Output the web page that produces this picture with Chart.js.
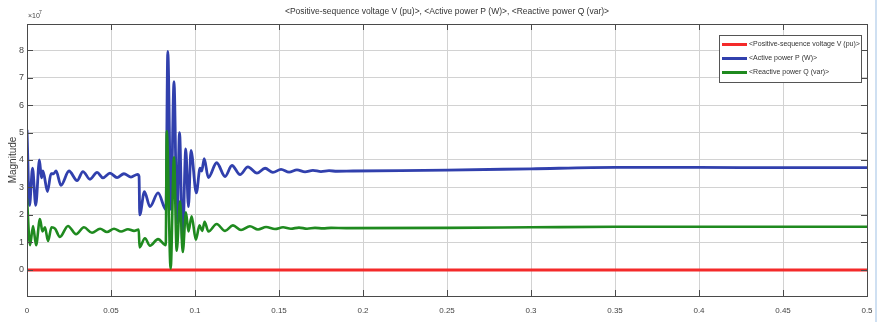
<!DOCTYPE html>
<html>
<head>
<meta charset="utf-8">
<script src="https://cdn.jsdelivr.net/npm/chart.js@4.4.1/dist/chart.umd.min.js"></script>
<style>
  html, body { margin: 0; padding: 0; background: #fff; }
  #wrap { position: relative; width: 884px; height: 322px; }
  #edge { position: absolute; left: 875px; top: 0; width: 2px; height: 322px; background: #cfe0f2; }
</style>
</head>
<body>
<div id="wrap">
  <canvas id="scope" width="884" height="322"></canvas>
  <div id="edge"></div>
</div>
<script>
// time (s) and magnitude (x 1e7)
const timeV = [0, 0.5];
const valV = [0, 0];

const timeP = [0, 0.0015, 0.0033, 0.0052, 0.0074, 0.0086, 0.0095, 0.0122, 0.0143, 0.0158, 0.0173,
  0.0202, 0.0250, 0.0298, 0.0333, 0.0375, 0.0417, 0.0452, 0.0494, 0.0536, 0.0577, 0.0619, 0.0658,
  0.0667, 0.0671, 0.0699, 0.0732, 0.0780, 0.0827, 0.0838, 0.0857, 0.0875, 0.0893, 0.0908, 0.0926,
  0.0945, 0.0961, 0.0976, 0.1008, 0.1030, 0.1040, 0.1055, 0.1079, 0.1129, 0.1179, 0.1220, 0.1268,
  0.1315, 0.1369, 0.1417, 0.1464, 0.1512, 0.1560, 0.1607, 0.1655, 0.1702, 0.1750, 0.1798, 0.1845,
  0.194, 0.25, 0.3, 0.35, 0.4, 0.45, 0.5];
const valP = [5.1, 2.35, 3.7, 2.35, 4.0, 3.35, 3.6, 2.85, 3.5, 3.5, 3.6,
  3.08, 3.6, 3.25, 3.58, 3.3, 3.55, 3.35, 3.52, 3.36, 3.5, 3.38, 3.48,
  3.4, 2.0, 2.85, 2.3, 2.8, 2.2, 7.95, 2.2, 6.85, 1.7, 5.0, 1.0,
  4.4, 2.3, 4.35, 2.8, 3.7, 3.6, 4.05, 3.36, 3.9, 3.4, 3.8, 3.47,
  3.75, 3.52, 3.7, 3.55, 3.66, 3.56, 3.64, 3.57, 3.62, 3.58, 3.61, 3.59,
  3.6, 3.63, 3.68, 3.73, 3.73, 3.72, 3.72];

const timeQ = [0, 0.0018, 0.0036, 0.0054, 0.0077, 0.0092, 0.0107, 0.0125, 0.0146, 0.0167, 0.0196,
  0.0244, 0.0292, 0.0339, 0.0387, 0.0435, 0.0476, 0.0518, 0.0560, 0.0601, 0.0637, 0.0665,
  0.0670, 0.0702, 0.0732, 0.0780, 0.0826, 0.0832, 0.0855, 0.0875, 0.0891, 0.0911, 0.0927,
  0.0946, 0.0961, 0.0980, 0.1005, 0.1027, 0.1043, 0.1057, 0.1080, 0.1129, 0.1179, 0.1226,
  0.1274, 0.1327, 0.1375, 0.1423, 0.1476, 0.1524, 0.1571, 0.1619, 0.1667, 0.1714, 0.1762,
  0.1810, 0.19, 0.25, 0.3, 0.35, 0.4, 0.45, 0.5];
const valQ = [2.6, 0.9, 1.6, 0.9, 1.85, 1.4, 1.55, 1.05, 1.55, 1.5, 1.2,
  1.6, 1.3, 1.55, 1.35, 1.5, 1.38, 1.5, 1.4, 1.48, 1.42, 1.47,
  0.82, 1.15, 0.88, 1.12, 0.9, 5.05, 0.05, 4.1, 0.7, 2.5, 0.65,
  2.1, 1.4, 1.95, 1.1, 1.62, 1.42, 1.75, 1.4, 1.67, 1.42, 1.62,
  1.45, 1.59, 1.47, 1.56, 1.49, 1.55, 1.5, 1.54, 1.5, 1.53, 1.51,
  1.53, 1.52, 1.53, 1.55, 1.57, 1.57, 1.57, 1.57];

const xTicks = [0, 0.05, 0.1, 0.15, 0.2, 0.25, 0.3, 0.35, 0.4, 0.45, 0.5];
const xTickLabels = ['0', '0.05', '0.1', '0.15', '0.2', '0.25', '0.3', '0.35', '0.4', '0.45', '0.5'];
const yTicks = [0, 1, 2, 3, 4, 5, 6, 7, 8];

const seriesNames = ['<Positive-sequence voltage V (pu)>', '<Active power P (W)>', '<Reactive power Q (var)>'];
const chartTitle = '<Positive-sequence voltage V (pu)>, <Active power P (W)>, <Reactive power Q (var)>';

const toPoints = (ts, vs) => ts.map((t, i) => ({ x: t, y: vs[i] }));

const FONT = '"Liberation Sans", Arial, sans-serif';

// matlab-ish box, inward ticks, exponent, legend
const scopeDecor = {
  id: 'scopeDecor',
  afterDraw(chart) {
    const { ctx, chartArea: a, scales } = chart;
    ctx.save();
    ctx.strokeStyle = '#4a4a4a';
    ctx.lineWidth = 1;
    ctx.strokeRect(a.left + 0.5, a.top + 0.5, a.right - a.left, a.bottom - a.top);

    ctx.beginPath();
    scales.y.ticks.forEach(t => {
      const py = Math.round(scales.y.getPixelForValue(t.value)) + 0.5;
      ctx.moveTo(a.left, py); ctx.lineTo(a.left + 6, py);
      ctx.moveTo(a.right, py); ctx.lineTo(a.right - 6, py);
    });
    scales.x.ticks.forEach(t => {
      const px = Math.round(scales.x.getPixelForValue(t.value)) + 0.5;
      ctx.moveTo(px, a.bottom); ctx.lineTo(px, a.bottom - 6);
      ctx.moveTo(px, a.top); ctx.lineTo(px, a.top + 6);
    });
    ctx.stroke();

    // x10^7
    ctx.fillStyle = '#444';
    ctx.font = '7px ' + FONT;
    ctx.textBaseline = 'alphabetic';
    ctx.textAlign = 'left';
    ctx.fillText('\u00d710', a.left + 1, a.top - 6);
    ctx.font = '5px ' + FONT;
    ctx.fillText('7', a.left + 12, a.top - 10);

    // legend
    const lw = 142, lh = 47;
    const lx = a.right - 6 - lw, ly = a.top + 11;
    ctx.fillStyle = '#fff';
    ctx.fillRect(lx, ly, lw, lh);
    ctx.strokeStyle = '#555';
    ctx.strokeRect(lx + 0.5, ly + 0.5, lw, lh);
    ctx.font = '7px ' + FONT;
    ctx.textBaseline = 'middle';
    chart.data.datasets.forEach((ds, i) => {
      const yy = ly + 9.5 + i * 14;
      ctx.strokeStyle = ds.borderColor;
      ctx.lineWidth = 3;
      ctx.beginPath();
      ctx.moveTo(lx + 3, yy); ctx.lineTo(lx + 28, yy);
      ctx.stroke();
      ctx.fillStyle = '#333';
      ctx.fillText(ds.label, lx + 30, yy);
    });
    ctx.restore();
  }
};

new Chart(document.getElementById('scope'), {
  type: 'line',
  data: {
    datasets: [
      { label: seriesNames[0], data: toPoints(timeV, valV), borderColor: '#f42a2a', borderWidth: 3, order: 2 },
      { label: seriesNames[1], data: toPoints(timeP, valP), borderColor: '#3140ad', borderWidth: 2.8, order: 1,
        cubicInterpolationMode: 'monotone' },
      { label: seriesNames[2], data: toPoints(timeQ, valQ), borderColor: '#1f8a1f', borderWidth: 2.6, order: 0,
        cubicInterpolationMode: 'monotone' }
    ]
  },
  options: {
    responsive: false,
    animation: false,
    events: [],
    layout: { padding: { left: 0, right: 17, top: 0, bottom: 0 } },
    elements: { point: { radius: 0 } },
    plugins: {
      legend: { display: false },
      tooltip: { enabled: false },
      title: {
        display: true,
        fullSize: false,
        text: chartTitle,
        color: '#333',
        font: { family: FONT, size: 8.5, weight: 'normal' },
        padding: { top: 7, bottom: 6.8 }
      }
    },
    scales: {
      x: {
        type: 'linear',
        min: 0,
        max: 0.5,
        afterBuildTicks: s => { s.ticks = xTicks.map(v => ({ value: v })); },
        afterFit: s => { s.height = 26; },
        grid: { color: '#d2d2d2', drawTicks: false },
        border: { display: false },
        ticks: {
          padding: 10,
          color: '#444',
          font: { family: FONT, size: 8 },
          callback: (v, i) => xTickLabels[i]
        }
      },
      y: {
        type: 'linear',
        min: -0.95,
        max: 8.95,
        afterBuildTicks: s => { s.ticks = yTicks.map(v => ({ value: v })); },
        afterFit: s => { s.width = 27; },
        grid: { color: '#d2d2d2', drawTicks: false },
        border: { display: false },
        title: {
          display: true,
          text: 'Magnitude',
          color: '#3a3a3a',
          padding: { top: 7, bottom: 0 },
          font: { family: FONT, size: 10 }
        },
        ticks: {
          padding: 3,
          color: '#444',
          font: { family: FONT, size: 9 }
        }
      }
    }
  },
  plugins: [scopeDecor]
});
</script>
</body>
</html>
